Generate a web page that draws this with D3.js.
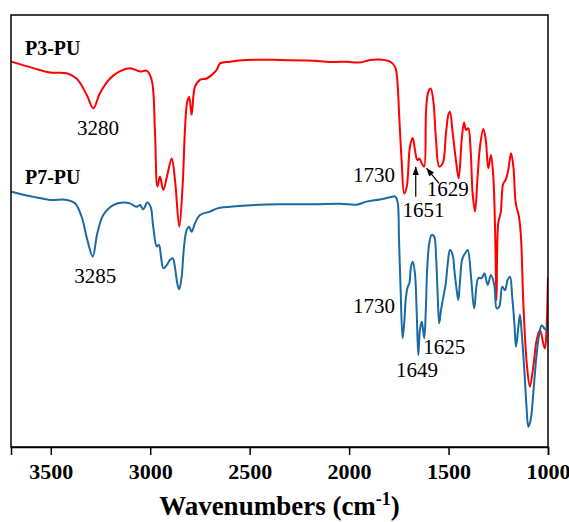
<!DOCTYPE html>
<html>
<head>
<meta charset="utf-8">
<script src="https://cdn.jsdelivr.net/npm/d3@7"></script>
<style>
  body { margin: 0; background: #fff; }
  svg { display: block; }
</style>
</head>
<body>
<script>
// FTIR spectra (transmittance, arbitrary offset units) vs wavenumber (cm-1)
const p3Wavenumber = [3698, 3588, 3504, 3420, 3370, 3319, 3286, 3253, 3202, 3152, 3102, 3051, 3018, 2993, 2976, 2964, 2951, 2934, 2914, 2892, 2875, 2854, 2837, 2825, 2814, 2804, 2792, 2775, 2750, 2716, 2666, 2649, 2599, 2515, 2348, 2180, 2081, 2012, 1945, 1895, 1845, 1794, 1769, 1758, 1748, 1736, 1723, 1710, 1694, 1680, 1669, 1657, 1647, 1635, 1623, 1613, 1602, 1590, 1577, 1563, 1547, 1529, 1513, 1501, 1493, 1479, 1463, 1449, 1434, 1422, 1412, 1401, 1389, 1379, 1367, 1355, 1342, 1325, 1313, 1300, 1287, 1275, 1266, 1259, 1250, 1238, 1225, 1213, 1200, 1186, 1174, 1162, 1146, 1136, 1124, 1107, 1091, 1074, 1057, 1040, 1024, 1015, 1007, 1000];
const p3Transmittance = [89.2, 87.7, 86.7, 86.5, 85.3, 81.5, 78.4, 81.9, 85.3, 87.0, 87.7, 86.9, 87.1, 85.0, 72.7, 60.3, 62.6, 59.5, 63.0, 66.8, 61.6, 51.0, 60.6, 73.8, 79.9, 81.0, 76.9, 83.4, 85.0, 85.3, 87.3, 88.8, 89.2, 89.6, 89.6, 89.4, 89.1, 89.2, 89.0, 89.6, 89.7, 89.2, 88.0, 85.0, 76.5, 66.4, 58.7, 60.3, 69.5, 71.5, 68.8, 66.4, 66.8, 65.7, 64.9, 78.0, 82.2, 83.0, 80.3, 71.1, 64.9, 65.7, 72.6, 76.9, 77.6, 72.6, 66.4, 62.2, 71.1, 75.1, 73.4, 73.8, 68.8, 58.7, 54.5, 61.8, 69.5, 73.6, 71.1, 64.5, 67.6, 62.6, 50.2, 34.0, 51.9, 54.2, 61.0, 61.8, 64.1, 68.0, 64.9, 56.4, 53.3, 48.7, 33.3, 19.4, 14.0, 18.6, 24.8, 27.1, 24.0, 22.8, 27.8, 39.4];

const p7Wavenumber = [3698, 3588, 3504, 3420, 3378, 3345, 3316, 3289, 3266, 3236, 3186, 3135, 3102, 3068, 3051, 3035, 3015, 2998, 2985, 2967, 2956, 2946, 2934, 2917, 2901, 2887, 2875, 2864, 2854, 2842, 2830, 2817, 2804, 2792, 2775, 2750, 2700, 2658, 2599, 2515, 2348, 2180, 2046, 1962, 1912, 1845, 1794, 1769, 1757, 1749, 1741, 1731, 1723, 1714, 1705, 1697, 1689, 1680, 1669, 1660, 1652, 1644, 1635, 1630, 1622, 1615, 1607, 1597, 1585, 1572, 1563, 1555, 1547, 1538, 1526, 1514, 1504, 1493, 1479, 1471, 1459, 1451, 1442, 1434, 1426, 1417, 1404, 1387, 1371, 1350, 1333, 1320, 1303, 1287, 1270, 1258, 1245, 1230, 1216, 1203, 1191, 1180, 1169, 1161, 1149, 1141, 1132, 1119, 1107, 1099, 1087, 1074, 1060, 1045, 1032, 1019, 1010, 1000];
const p7Transmittance = [59.1, 57.9, 57.2, 57.2, 56.4, 53.3, 47.9, 44.1, 49.5, 53.7, 56.0, 56.6, 56.4, 55.6, 56.0, 55.0, 56.6, 55.6, 51.0, 46.4, 46.8, 44.1, 41.4, 42.1, 43.3, 43.7, 41.4, 37.9, 36.5, 39.4, 46.4, 50.2, 51.0, 49.8, 51.8, 53.7, 54.5, 55.3, 55.6, 55.9, 56.2, 56.2, 56.3, 56.1, 56.8, 57.3, 57.8, 58.0, 56.9, 47.9, 36.3, 25.2, 28.6, 34.8, 37.1, 37.9, 41.7, 42.9, 40.2, 30.9, 21.3, 27.1, 29.0, 27.8, 25.2, 30.9, 41.7, 47.2, 49.1, 48.7, 44.1, 35.6, 28.6, 31.7, 34.8, 37.9, 42.5, 45.6, 44.4, 41.0, 36.3, 34.0, 38.7, 42.9, 44.1, 44.8, 45.6, 39.4, 32.1, 39.1, 39.1, 40.2, 37.5, 39.8, 37.5, 32.1, 32.5, 37.1, 36.3, 38.7, 39.4, 34.8, 28.6, 23.2, 27.8, 30.6, 26.3, 17.8, 8.6, 4.7, 6.3, 12.4, 20.1, 25.9, 28.2, 27.5, 27.1, 29.2];

const xTicks = [3500, 3000, 2500, 2000, 1500, 1000];
const seriesNames = ["P3-PU", "P7-PU"];
const seriesColors = ["#ff0000", "#1a6aa5"];
// series name positions (wavenumber, transmittance)
const seriesNameWn = [3630, 3630];
const seriesNameT = [90.7, 60.9];

// peak annotations anchored in data units
const peakLabels = [
  { text: "3280", wn: 3263, t: 72.2, anchor: "middle" },
  { text: "3285", wn: 3276, t: 37.9, anchor: "middle" },
  { text: "1730", wn: 1769, t: 61.4, anchor: "end" },
  { text: "1651", wn: 1731, t: 53.3, anchor: "start" },
  { text: "1629", wn: 1610, t: 58.1, anchor: "start" },
  { text: "1730", wn: 1769, t: 31.1, anchor: "end" },
  { text: "1625", wn: 1627, t: 21.5, anchor: "start" },
  { text: "1649", wn: 1764, t: 16.1, anchor: "start" }
];
const peakArrows = [
  { fromWn: 1665, fromT: 57.9, toWn: 1665, toT: 64.8 },
  { fromWn: 1548, fromT: 61.0, toWn: 1610, toT: 64.5 }
];

const W = 569, H = 522;
const margin = { left: 11, right: 21, top: 15, bottom: 75 };
const serif = '"Times New Roman", "Liberation Serif", Times, serif';

const svg = d3.select("body").append("svg")
  .attr("width", W).attr("height", H)
  .style("font-family", serif);

const x = d3.scaleLinear().domain([3700, 1000]).range([margin.left, W - margin.right]);
const y = d3.scaleLinear().domain([0, 100]).range([H - margin.bottom, margin.top]);

svg.append("defs").append("marker")
  .attr("id", "head")
  .attr("viewBox", "0 -4 10 8")
  .attr("refX", 9).attr("refY", 0)
  .attr("markerUnits", "userSpaceOnUse")
  .attr("markerWidth", 9).attr("markerHeight", 7)
  .attr("orient", "auto")
  .append("path").attr("d", "M0,-3.5L10,0L0,3.5Z").attr("fill", "#000");

const line = d3.line()
  .x(d => x(d[0])).y(d => y(d[1]))
  .curve(d3.curveCatmullRom.alpha(0.5));

const series = [
  d3.zip(p3Wavenumber, p3Transmittance),
  d3.zip(p7Wavenumber, p7Transmittance)
];

const plot = svg.append("g");
plot.append("clipPath").attr("id", "clip").append("rect")
  .attr("x", margin.left).attr("y", margin.top)
  .attr("width", W - margin.left - margin.right)
  .attr("height", H - margin.top - margin.bottom);

series.forEach((s, i) => {
  plot.append("path")
    .datum(s)
    .attr("clip-path", "url(#clip)")
    .attr("fill", "none")
    .attr("stroke", seriesColors[i])
    .attr("stroke-width", 2)
    .attr("stroke-linejoin", "round")
    .attr("d", line);
});

// frame
svg.append("rect")
  .attr("x", margin.left).attr("y", margin.top)
  .attr("width", W - margin.left - margin.right)
  .attr("height", H - margin.top - margin.bottom)
  .attr("fill", "none").attr("stroke", "#000").attr("stroke-width", 1.5);

// bottom axis
const xAxis = svg.append("g")
  .attr("transform", `translate(0,${H - margin.bottom})`)
  .call(d3.axisBottom(x).tickValues(xTicks).tickFormat(d3.format("d")).tickSize(8).tickPadding(8));
xAxis.select(".domain").attr("stroke-width", 1.5);
xAxis.selectAll(".tick line").attr("stroke-width", 1.5);
xAxis.selectAll("text")
  .style("font-family", serif)
  .style("font-weight", "bold")
  .style("font-size", "22px")
  .attr("fill", "#000");

// axis title
const title = svg.append("text")
  .attr("x", (margin.left + W - margin.right) / 2)
  .attr("y", 515)
  .attr("text-anchor", "middle")
  .style("font-weight", "bold")
  .style("font-size", "27px");
title.append("tspan").text("Wavenumbers (cm");
title.append("tspan").attr("dy", -10).style("font-size", "18px").text("-1");
title.append("tspan").attr("dy", 10).text(")");

// series names
seriesNames.forEach((n, i) => {
  svg.append("text")
    .attr("x", x(seriesNameWn[i])).attr("y", y(seriesNameT[i]))
    .style("font-weight", "bold").style("font-size", "20px")
    .text(n);
});

// peak labels
svg.selectAll("text.peak").data(peakLabels).join("text")
  .attr("class", "peak")
  .attr("x", d => x(d.wn)).attr("y", d => y(d.t))
  .attr("text-anchor", d => d.anchor)
  .style("font-size", "21px")
  .text(d => d.text);

svg.selectAll("line.arrow").data(peakArrows).join("line")
  .attr("class", "arrow")
  .attr("x1", d => x(d.fromWn)).attr("y1", d => y(d.fromT))
  .attr("x2", d => x(d.toWn)).attr("y2", d => y(d.toT))
  .attr("stroke", "#000").attr("stroke-width", 1.2)
  .attr("marker-end", "url(#head)");
</script>
</body>
</html>
